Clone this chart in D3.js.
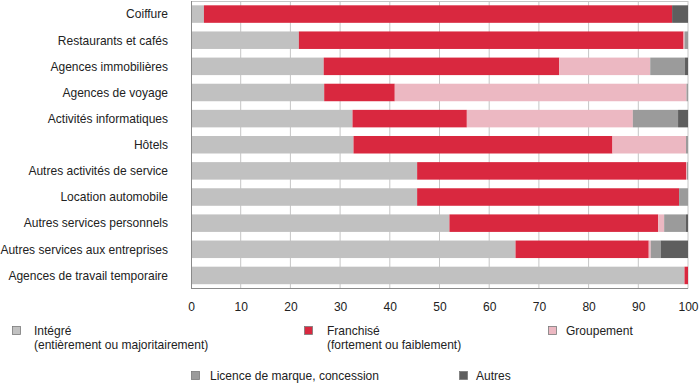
<!DOCTYPE html>
<html><head><meta charset="utf-8">
<script src="https://cdn.jsdelivr.net/npm/d3@7"></script>
<style>
html,body{margin:0;padding:0;background:#fff;}
svg text{font-family:"Liberation Sans",Arial,sans-serif;fill:#222;}
</style></head>
<body><svg id="c" width="700" height="383"></svg>
<script>
const categories = ["Coiffure","Restaurants et cafés","Agences immobilières","Agences de voyage","Activités informatiques","Hôtels","Autres activités de service","Location automobile","Autres services personnels","Autres services aux entreprises","Agences de travail temporaire"];
const integre    = [2.6, 21.7, 26.7, 26.8, 32.5, 32.7, 45.5, 45.5, 52.0, 65.3, 99.3];
const franchise  = [94.2, 77.4, 47.4, 14.2, 23.0, 52.1, 54.1, 52.7, 42.0, 26.8, 0.7];
const groupement = [0, 0.2, 18.3, 58.7, 33.4, 14.8, 0.2, 0, 1.2, 0.4, 0];
const licence    = [0, 0.7, 7.0, 0.3, 9.1, 0.4, 0.2, 1.8, 4.4, 2.0, 0];
const autres     = [3.2, 0, 0.6, 0, 2.0, 0, 0, 0, 0.4, 5.5, 0];
const seriesKeys = ["integre","franchise","groupement","licence","autres"];
const seriesLabels = [["Intégré","(entièrement ou majoritairement)"],["Franchisé","(fortement ou faiblement)"],["Groupement"],["Licence de marque, concession"],["Autres"]];
const colors = ["#c1c1c1","#d9283f","#ecb8c2","#9b9b9b","#5e5e5e"];
const tickValues = [0,10,20,30,40,50,60,70,80,90,100];

const rows = categories.map((c,i)=>({cat:c,integre:integre[i],franchise:franchise[i],groupement:groupement[i],licence:licence[i],autres:autres[i]}));
const stacked = d3.stack().keys(seriesKeys)(rows);

const svg = d3.select("#c");
const x = d3.scaleLinear().domain([0,100]).range([191,688]);
const y = d3.scaleBand().domain(categories).range([1,288.5]).paddingInner(0.33).paddingOuter(0.165);

// gridlines
svg.append("g").selectAll("line").data(tickValues.slice(1)).join("line")
  .attr("x1",d=>x(d)).attr("x2",d=>x(d)).attr("y1",1).attr("y2",288.5)
  .attr("stroke","#c6c6c6").attr("stroke-width",1);
svg.append("line").attr("x1",x(0)).attr("x2",x(100)).attr("y1",1.5).attr("y2",1.5).attr("stroke","#c6c6c6");

// bars
svg.append("g").selectAll("g").data(stacked).join("g")
  .attr("fill",(d,i)=>colors[i])
  .selectAll("rect").data(d=>d).join("rect")
  .attr("x",d=>x(d[0])).attr("width",d=>Math.max(0,x(d[1])-x(d[0])))
  .attr("y",d=>y(d.data.cat)).attr("height",y.bandwidth());

// axes lines
svg.append("line").attr("x1",x(0)+0.5).attr("x2",x(0)+0.5).attr("y1",1).attr("y2",289).attr("stroke","#8a8a8a");
svg.append("line").attr("x1",x(0)).attr("x2",x(100)).attr("y1",288.5).attr("y2",288.5).attr("stroke","#8a8a8a");

// x axis labels
const xa = svg.append("g").attr("transform","translate(0,301)")
  .call(d3.axisBottom(x).tickValues(tickValues).tickSize(0).tickPadding(0).tickFormat(d3.format("d")));
xa.select(".domain").remove();
xa.selectAll("text").attr("font-size",13.5).attr("dy","0.71em").attr("font-family",null);

// y labels
const ya = svg.append("g").attr("transform","translate(168,0)")
  .call(d3.axisLeft(y).tickSize(0).tickPadding(0));
ya.select(".domain").remove();
ya.selectAll("text").attr("font-size",13.5).attr("font-family",null);

// legend
const legendPos = [[12,326],[304,326],[548,326],[191,371],[459,371]];
const textOff = [22,23,18,19,17];
const lg = svg.append("g").selectAll("g").data(seriesLabels).join("g")
  .attr("transform",(d,i)=>`translate(${legendPos[i][0]},${legendPos[i][1]})`);
lg.append("rect").attr("x",0.5).attr("y",0.5).attr("width",8).attr("height",8)
  .attr("fill",(d,i)=>colors[i]).attr("stroke","#7a7a7a").attr("stroke-width",0.8);
lg.each(function(d,i){
  const g=d3.select(this);
  d.forEach((t,j)=>{
    g.append("text").attr("x",textOff[i]).attr("y",4.5+j*14).attr("dy","0.35em")
      .attr("font-size",13.5).text(t);
  });
});

// condensed look
svg.selectAll("text").each(function(){
  const w=this.getComputedTextLength();
  this.setAttribute("textLength",(w*0.89).toFixed(1));
  this.setAttribute("lengthAdjust","spacingAndGlyphs");
});
</script></body></html>
